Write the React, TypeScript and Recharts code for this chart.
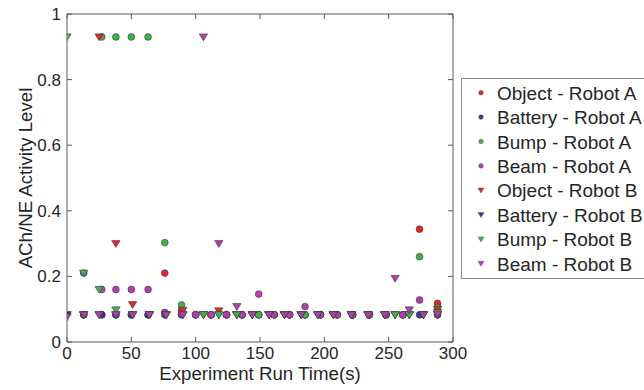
import React from "react";
import { ScatterChart, Scatter, XAxis, YAxis } from "recharts";

// sample times (s) for each robot
const timesA = [13, 27, 38, 50, 63, 76, 89, 100, 112, 124, 136, 149, 161, 173, 185, 197, 210, 222, 235, 248, 261, 274, 288];
const timesB = [0, 13, 25, 38, 51, 64, 77, 90, 106, 118, 132, 144, 157, 169, 182, 195, 207, 221, 234, 247, 255, 266, 277, 288];

// Robot A activity levels (circles)
const objectA = [0.083, 0.083, 0.083, 0.083, 0.083, 0.21, 0.097, 0.083, 0.083, 0.083, 0.083, 0.083, 0.083, 0.083, 0.083, 0.083, 0.083, 0.083, 0.083, 0.083, 0.083, 0.344, 0.118];
const batteryA = [0.083, 0.083, 0.083, 0.083, 0.083, 0.083, 0.083, 0.083, 0.083, 0.083, 0.083, 0.083, 0.083, 0.083, 0.083, 0.083, 0.083, 0.083, 0.083, 0.083, 0.083, 0.083, 0.083];
const bumpA = [0.083, 0.93, 0.93, 0.93, 0.93, 0.303, 0.113, 0.083, 0.083, 0.083, 0.083, 0.083, 0.083, 0.083, 0.083, 0.083, 0.083, 0.083, 0.083, 0.083, 0.083, 0.26, 0.105];
const beamA = [0.21, 0.16, 0.16, 0.16, 0.16, 0.09, 0.085, 0.083, 0.083, 0.083, 0.083, 0.146, 0.083, 0.083, 0.108, 0.083, 0.083, 0.083, 0.083, 0.083, 0.083, 0.128, 0.083];

// Robot B activity levels (triangles)
const objectB = [0.083, 0.083, 0.93, 0.30, 0.114, 0.083, 0.083, 0.097, 0.083, 0.095, 0.083, 0.083, 0.083, 0.083, 0.083, 0.083, 0.083, 0.083, 0.083, 0.083, 0.083, 0.083, 0.083, 0.1];
const batteryB = [0.083, 0.083, 0.083, 0.083, 0.083, 0.083, 0.083, 0.083, 0.083, 0.083, 0.083, 0.083, 0.083, 0.083, 0.083, 0.083, 0.083, 0.083, 0.083, 0.083, 0.083, 0.083, 0.083, 0.083];
const bumpB = [0.93, 0.21, 0.16, 0.098, 0.083, 0.083, 0.083, 0.083, 0.083, 0.083, 0.083, 0.083, 0.083, 0.083, 0.083, 0.083, 0.083, 0.083, 0.083, 0.083, 0.083, 0.083, 0.083, 0.09];
const beamB = [0.076, 0.083, 0.083, 0.083, 0.083, 0.083, 0.083, 0.083, 0.93, 0.30, 0.108, 0.083, 0.083, 0.083, 0.083, 0.083, 0.083, 0.083, 0.083, 0.083, 0.194, 0.098, 0.083, 0.085];

const xTicks = [0, 50, 100, 150, 200, 250, 300];
const yTicks = [0, 0.2, 0.4, 0.6, 0.8, 1];

const RED = "#e3262a";
const BLUE = "#2e3a9c";
const GREEN = "#43b04a";
const PURPLE = "#b23fae";

const FONT = "'Liberation Sans', Arial, sans-serif";
const AXIS = "#5a5a5a";

const series = [
  { name: "Object - Robot A", times: timesA, values: objectA, color: RED, kind: "circle" },
  { name: "Battery - Robot A", times: timesA, values: batteryA, color: BLUE, kind: "circle" },
  { name: "Bump - Robot A", times: timesA, values: bumpA, color: GREEN, kind: "circle" },
  { name: "Beam - Robot A", times: timesA, values: beamA, color: PURPLE, kind: "circle" },
  { name: "Object - Robot B", times: timesB, values: objectB, color: RED, kind: "tri" },
  { name: "Battery - Robot B", times: timesB, values: batteryB, color: BLUE, kind: "tri" },
  { name: "Bump - Robot B", times: timesB, values: bumpB, color: GREEN, kind: "tri" },
  { name: "Beam - Robot B", times: timesB, values: beamB, color: PURPLE, kind: "tri" },
];

const circleShape = (fill: string) => (p: any) => (
  <circle cx={p.cx} cy={p.cy} r={3.4} fill={fill} stroke="#3a3a3a" strokeWidth={0.6} />
);

const triShape = (fill: string) => (p: any) => (
  <polygon
    points={`${p.cx - 4.2},${p.cy - 3} ${p.cx + 4.2},${p.cy - 3} ${p.cx},${p.cy + 3.8}`}
    fill={fill}
    stroke="#3a3a3a"
    strokeWidth={0.6}
  />
);

const noTick = () => <g />;

const XLabel = (props: any) => {
  const { x, width } = props.viewBox;
  return (
    <text x={x + width / 2} y={380} textAnchor="middle" fontFamily={FONT} fontSize={18.7} fill="#262626">
      Experiment Run Time(s)
    </text>
  );
};

const YLabel = () => (
  <text
    x={32}
    y={178}
    transform="rotate(-90, 32, 178)"
    textAnchor="middle"
    fontFamily={FONT}
    fontSize={18.7}
    fill="#262626"
  >
    ACh/NE Activity Level
  </text>
);

const LegendBox = () => (
  <svg width={200} height={202} style={{ position: "absolute", left: 461, top: 78 }}>
    <rect x={0.5} y={0.5} width={199} height={200} fill="#fff" stroke="#8a8a8a" strokeWidth={1} />
    {series.map((s, i) => {
      const cy = 14.7 + i * 24.4;
      return (
        <g key={s.name}>
          {s.kind === "circle" ? (
            <circle cx={20} cy={cy} r={2.3} fill={s.color} stroke="#444" strokeWidth={0.4} />
          ) : (
            <polygon points={`${17},${cy - 2.2} ${23},${cy - 2.2} ${20},${cy + 2.8}`} fill={s.color} stroke="#444" strokeWidth={0.4} />
          )}
          <text x={36} y={cy + 7} fontFamily={FONT} fontSize={19} fill="#262626">
            {s.name}
          </text>
        </g>
      );
    })}
  </svg>
);

export default function App() {
  return (
    <div style={{ position: "absolute", left: 0, top: 0, width: 644, height: 390, background: "#fff" }}>
      <ScatterChart width={644} height={390} margin={{ top: 13, right: 190, bottom: 0, left: 0 }}>
        <XAxis
          xAxisId="bottom"
          type="number"
          dataKey="x"
          domain={[0, 300]}
          ticks={xTicks}
          allowDataOverflow
          height={48}
          stroke={AXIS}
          tickSize={-5}
          tickMargin={10}
          tick={{ fill: "#262626", fontSize: 17, fontFamily: FONT }}
          label={<XLabel />}
        />
        <XAxis
          xAxisId="top"
          orientation="top"
          type="number"
          dataKey="x"
          domain={[0, 300]}
          ticks={xTicks}
          allowDataOverflow
          height={1}
          stroke={AXIS}
          tickSize={-5}
          tick={noTick}
        />
        <YAxis
          yAxisId="left"
          type="number"
          dataKey="y"
          domain={[0, 1]}
          ticks={yTicks}
          allowDataOverflow
          width={67}
          stroke={AXIS}
          tickSize={-5}
          tickMargin={11}
          tickFormatter={(v: number) => String(v)}
          tick={{ fill: "#262626", fontSize: 17, fontFamily: FONT }}
          label={<YLabel />}
        />
        <YAxis
          yAxisId="right"
          orientation="right"
          type="number"
          dataKey="y"
          domain={[0, 1]}
          ticks={yTicks}
          allowDataOverflow
          width={1}
          stroke={AXIS}
          tickSize={-5}
          tick={noTick}
        />
        {series.map((s) => (
          <Scatter
            key={s.name}
            name={s.name}
            xAxisId="bottom"
            yAxisId="left"
            data={s.times.map((t, i) => ({ x: t, y: s.values[i] }))}
            shape={s.kind === "circle" ? circleShape(s.color) : triShape(s.color)}
            isAnimationActive={false}
          />
        ))}
      </ScatterChart>
      <LegendBox />
    </div>
  );
}
